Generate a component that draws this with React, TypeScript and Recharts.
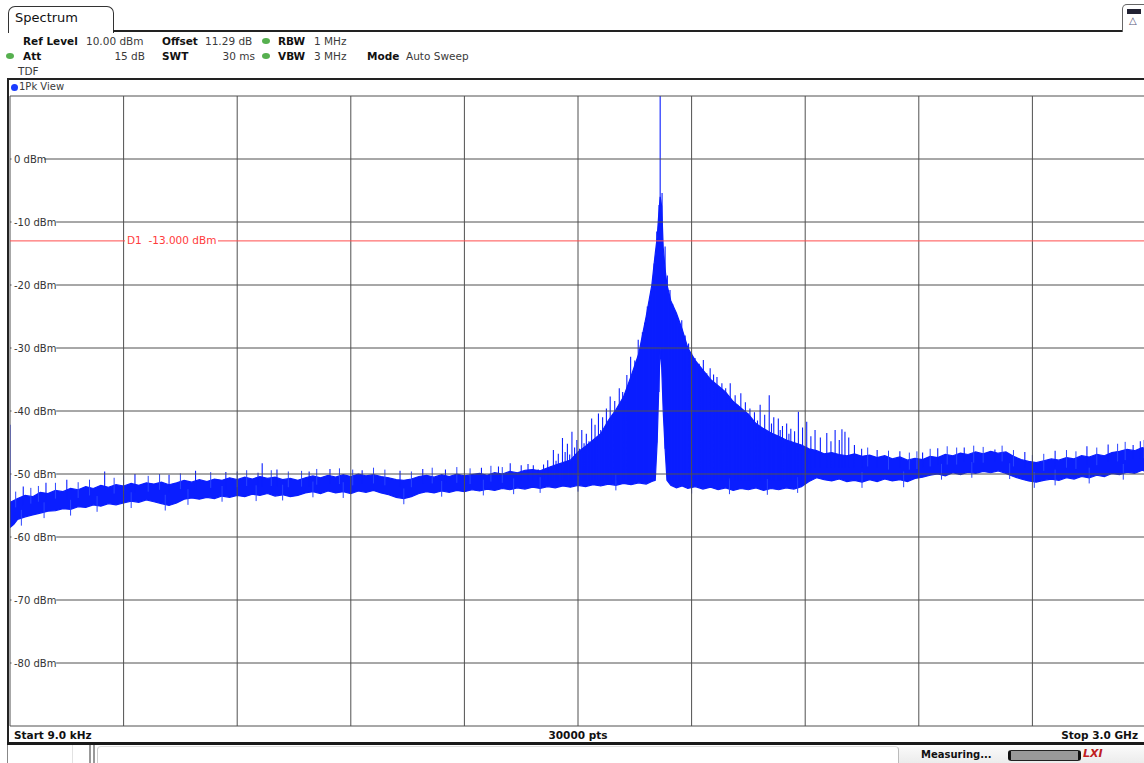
import React from "react";
import {
  ComposedChart,
  Area,
  Line,
  XAxis,
  YAxis,
  ReferenceLine,
} from "recharts";

// sweep 9 kHz .. 3 GHz, trace (MHz / dBm)
const FREQ_MHZ = [
  0, 10, 20, 40, 60, 80, 100, 120, 140, 160,
  180, 200, 220, 240, 260, 280, 300, 320, 340, 360,
  380, 400, 420, 440, 460, 480, 500, 520, 540, 560,
  580, 600, 620, 640, 660, 680, 700, 720, 740, 760,
  780, 800, 820, 840, 860, 880, 900, 920, 940, 960,
  980, 1000, 1020, 1040, 1060, 1080, 1100, 1120, 1140, 1160,
  1180, 1200, 1220, 1240, 1260, 1280, 1300, 1320, 1340, 1360,
  1380, 1400, 1420, 1440, 1460, 1480, 1500, 1520, 1540, 1560,
  1580, 1600, 1620, 1640, 1660, 1680, 1695, 1704, 1709, 1713,
  1717, 1721, 1725, 1730, 1735, 1745, 1760, 1775, 1790, 1810,
  1830, 1850, 1870, 1890, 1910, 1930, 1950, 1970, 1990, 2010,
  2030, 2050, 2070, 2090, 2110, 2130, 2150, 2170, 2190, 2210,
  2230, 2250, 2270, 2290, 2310, 2330, 2350, 2370, 2390, 2410,
  2430, 2450, 2470, 2490, 2510, 2530, 2550, 2570, 2590, 2610,
  2630, 2650, 2670, 2690, 2710, 2730, 2750, 2770, 2790, 2810,
  2830, 2850, 2870, 2890, 2910, 2930, 2950, 2970, 2990, 3000,
];

const LEVEL_LOW = [
  -58.5, -58.0, -57.2, -56.8, -56.5, -56.2, -55.9, -55.8, -55.5, -55.6,
  -55.2, -55.3, -54.9, -55.1, -54.7, -54.9, -54.6, -54.3, -54.5, -54.1,
  -54.4, -54.7, -55.0, -54.6, -54.0, -53.8, -54.0, -53.7, -53.9, -53.5,
  -53.7, -53.4, -53.6, -53.2, -53.4, -53.1, -53.5, -53.3, -53.6, -53.4,
  -53.0, -52.8, -53.1, -52.7, -53.0, -52.8, -53.1, -52.7, -52.9, -52.6,
  -53.0, -53.3, -53.7, -53.9, -53.6, -53.1, -52.8, -53.0, -52.7, -52.9,
  -52.6, -52.8, -52.5, -52.7, -52.4, -52.6, -52.3, -52.5, -52.2, -52.4,
  -52.1, -52.3, -52.0, -52.2, -51.9, -52.1, -51.8, -52.0, -51.7, -51.9,
  -51.6, -51.8, -51.5, -51.7, -51.4, -51.6, -51.2, -51.0, -45.0, -37.0,
  -30.0, -33.0, -40.0, -46.0, -51.0, -51.8, -52.2, -51.9, -52.3, -52.0,
  -52.4, -52.1, -52.5, -52.2, -52.6, -52.3, -52.5, -52.2, -52.6, -52.3,
  -52.5, -52.2, -52.4, -52.0, -51.2, -50.6, -50.9, -51.1, -50.8, -51.2,
  -51.0, -51.3, -50.9, -51.2, -50.8, -51.1, -50.9, -51.2, -50.7, -50.5,
  -50.2, -50.0, -50.3, -49.8, -50.1, -49.7, -49.9, -49.6, -49.8, -49.5,
  -49.9, -50.4, -50.8, -51.1, -51.3, -51.0, -50.8, -51.0, -50.6, -50.8,
  -50.4, -50.6, -50.2, -50.4, -49.9, -50.1, -49.7, -49.9, -49.4, -49.6,
];

const LEVEL_HIGH = [
  -54.5, -54.2, -53.9, -53.4, -53.6, -52.9, -53.1, -52.6, -52.8, -52.3,
  -52.5, -52.0, -52.3, -51.8, -52.1, -51.7, -51.9, -51.5, -51.8, -51.4,
  -51.6, -51.3, -51.7, -51.4, -51.0, -51.3, -50.9, -51.2, -50.8, -51.0,
  -50.6, -50.9, -50.5, -50.8, -50.4, -50.7, -50.5, -50.9, -50.7, -51.0,
  -50.6, -50.3, -50.6, -50.2, -50.5, -50.1, -50.4, -50.0, -50.3, -50.1,
  -50.4, -50.6, -50.9, -51.0, -50.8, -50.4, -50.2, -50.5, -50.1, -50.4,
  -50.0, -50.3, -50.1, -49.9, -50.2, -49.8, -50.0, -49.6, -49.8, -49.4,
  -49.3, -49.5, -49.0, -48.6, -48.2, -47.8, -46.5, -45.6, -44.6, -43.6,
  -41.5, -39.8, -37.8, -34.5, -31.0, -25.0, -20.0, -15.0, -12.5, -9.0,
  -6.0, -7.5, -14.0, -17.5, -20.0, -22.5, -24.5, -27.0, -30.0, -32.0,
  -33.5, -35.0, -36.0, -37.0, -38.5, -39.5, -40.5, -42.0, -42.8, -43.5,
  -44.0, -44.6, -45.0, -45.4, -46.0, -46.3, -46.8, -46.6, -46.9, -47.1,
  -46.8, -47.2, -47.0, -47.4, -47.1, -47.6, -47.3, -47.8, -47.5, -47.7,
  -47.2, -47.4, -46.9, -47.1, -46.7, -46.9, -46.5, -46.8, -46.4, -46.7,
  -46.5, -47.2, -47.7, -48.0, -48.2, -47.9, -47.6, -47.8, -47.4, -47.6,
  -47.1, -47.3, -46.9, -47.1, -46.6, -46.4, -46.1, -46.3, -45.8, -46.0,
];

// single peaks sticking out of the noise: freq, top, foot
const SPIKE_MHZ = [
  0, 35, 95, 150, 250, 330, 420, 490, 570, 655, 666, 705, 790, 845, 930, 1030, 1090, 1150, 1245, 1290, 1321, 1350,
  1368, 1382, 1395, 1409, 1420, 1428, 1435, 1442, 1448, 1459, 1466, 1472, 1478, 1484, 1491, 1497, 1504, 1510, 1516, 1522,
  1529, 1536, 1545, 1554, 1560, 1565, 1575, 1580, 1585, 1591, 1597, 1603, 1609, 1618, 1624, 1629, 1634, 1639, 1645, 1650,
  1659, 1664, 1670, 1676, 1683, 1692, 1701, 1708, 1714, 1717, 1722, 1730, 1736, 1743,
  1750, 1758, 1766, 1774, 1783, 1792, 1800, 1809, 1820, 1826, 1831, 1840, 1849,
  1858, 1867, 1874, 1880, 1890, 1896, 1902, 1915, 1922, 1930, 1942, 1948, 1954, 1966, 1974, 1981, 1993,
  2005, 2011, 2017, 2029, 2034, 2040, 2051, 2057, 2062, 2072, 2082, 2093, 2104, 2115, 2126,
  2140, 2157, 2168, 2179, 2190, 2197, 2205, 2215, 2230, 2249, 2290, 2350,
  2410, 2450, 2520, 2601, 2680, 2760, 2844, 2900, 2966, 2985,
];
const SPIKE_TOP = [
  -42.2, -52.0, -51.4, -50.9, -49.6, -50.0, -50.1, -49.5, -49.7, -49.8, -48.3, -49.3, -49.6, -49.2, -49.4, -49.5, -49.2, -49.3, -49.0, -48.8, -48.3, -48.6,
  -48.4, -48.6, -49.3, -48.5, -47.8, -48.8, -46.2, -47.9, -46.8, -44.3, -46.5, -45.2, -46.9, -43.3, -45.8, -44.6, -46.0, -43.0, -45.1, -43.6,
  -44.8, -41.2, -42.2, -40.4, -43.0, -41.0, -39.6, -42.2, -37.7, -40.5, -38.4, -40.2, -36.4, -37.0, -38.6, -34.3, -36.5, -31.4, -34.8, -32.0,
  -28.7, -30.2, -27.5, -26.0, -23.4, -21.0, -16.6, -11.5, -7.3, 10, -5.4, -13.9, -18.5, -20.8,
  -23.0, -25.0, -26.5, -25.6, -28.0, -29.3, -30.8, -31.6, -32.5, -33.8, -31.9, -34.0, -33.2,
  -34.2, -34.6, -36.8, -35.6, -36.4, -38.0, -35.6, -37.5, -39.0, -37.2, -38.6, -40.3, -39.6, -40.2, -41.5, -39.0, -40.6,
  -37.5, -42.0, -41.0, -41.2, -43.0, -42.4, -42.0, -43.6, -42.8, -43.2, -40.1, -42.6, -41.7, -44.0, -43.0,
  -44.2, -43.5, -44.8, -43.0, -44.6, -42.9, -43.3, -44.2, -45.4, -46.0, -46.2, -46.4,
  -46.6, -45.9, -45.8, -46.1, -46.5, -46.3, -45.6, -45.3, -45.4, -44.8,
];
const SPIKE_FOOT = [
  -56, -55, -54, -54, -52.5, -53, -53, -52.5, -52.5, -52, -52, -52, -52, -51.5, -51.5, -52, -51.5, -51.5, -51, -51, -51, -51,
  -51, -51, -51, -51, -51, -51, -51, -51, -51, -51, -51, -51, -51, -51, -51, -51, -51, -51, -51, -51,
  -51, -51, -51, -51, -51, -51, -51, -51, -51, -51, -51, -51, -51, -51, -51, -51, -51, -51, -51, -51,
  -51, -51, -51, -51, -51, -51, -51, -45, -37, -30, -33, -46, -51, -51,
  -51, -51, -51, -51, -51, -51, -51, -51, -51, -51, -51, -51, -51,
  -51, -51, -51, -51, -51, -51, -51, -51, -51, -51, -51, -51, -51, -51, -51, -51, -51,
  -51, -51, -51, -51, -51, -51, -51, -51, -51, -51, -51, -51, -51, -50, -49,
  -49, -49, -49, -49, -49, -49, -49, -49, -49, -49, -49, -49,
  -49, -48.5, -48, -48, -49, -49, -48.5, -48, -47.5, -47.5,
];

// short noise strokes along the edges of the noise band: freq, upper, lower
const FUZZ_MHZ = [
  15, 55, 75, 120, 180, 210, 275, 300, 365, 395, 450, 530, 600, 625, 690, 735, 770, 810, 870, 905,
  960, 990, 1060, 1115, 1180, 1215, 1270, 1300, 2265, 2320, 2375, 2395, 2430, 2475, 2500, 2545, 2570, 2620,
  2650, 2700, 2730, 2790, 2815, 2870, 2925, 2945, 2995,
  30, 90, 160, 230, 320, 410, 470, 560, 650, 720, 800, 880, 1040, 1140, 1250, 1330, 1400, 1500,
  1600, 1800, 1900, 2000, 2080, 2250, 2360, 2460, 2540, 2640, 2705, 2760, 2850, 2940,
];
const FUZZ_HI = [
  -52.8, -52.2, -51.9, -51.4, -51.3, -50.9, -50.6, -50.2, -50.3, -50.0, -49.9, -49.7, -49.6, -49.4, -49.4, -49.6, -49.5, -49.2, -49.1, -49.3,
  -49.0, -49.3, -49.6, -49.0, -48.9, -49.1, -48.7, -48.9, -45.8, -46.3, -46.6, -46.4, -46.0, -45.6, -45.8, -45.5, -45.7, -45.5,
  -46.2, -47.0, -46.8, -46.2, -46.4, -45.8, -45.2, -44.9, -44.6,
  -55.7, -54.5, -54.1, -53.5, -52.9, -53.3, -52.4, -51.9, -51.8, -51.7, -51.2, -51.3, -52.3, -51.1, -50.9, -50.7, -50.5, -50.3,
  -50.1, -50.6, -50.7, -50.8, -50.5, -49.7, -49.6, -48.4, -48.1, -48.3, -49.7, -49.3, -49.0, -48.4,
];
const FUZZ_LO = [
  -55.3, -54.7, -54.4, -53.9, -53.8, -53.4, -53.1, -52.7, -52.8, -52.5, -52.4, -52.2, -52.1, -51.9, -51.9, -52.1, -52.0, -51.7, -51.6, -51.8,
  -51.5, -51.8, -52.1, -51.5, -51.4, -51.6, -51.2, -51.4, -48.8, -49.3, -49.3, -49.2, -48.8, -48.5, -48.5, -48.2, -48.2, -48.0,
  -48.8, -49.8, -49.5, -49.0, -49.2, -48.6, -48.0, -47.8, -47.5,
  -58.2, -57.0, -56.6, -56.0, -55.4, -55.8, -54.9, -54.4, -54.3, -54.2, -53.7, -53.8, -54.8, -53.6, -53.4, -53.2, -53.0, -52.8,
  -52.6, -53.1, -53.2, -53.3, -53.0, -52.2, -52.1, -50.9, -50.6, -50.8, -52.2, -51.8, -51.5, -50.9,
];

const DBM_TICKS = [-90, -80, -70, -60, -50, -40, -30, -20, -10, 0, 10];
const FREQ_TICKS = [0, 300, 600, 900, 1200, 1500, 1800, 2100, 2400, 2700, 3000];
const D1_LEVEL = -13;

const TRACE = "#0a1eff";
const GRID = "#505050";
const FONT = "'DejaVu Sans', Verdana, sans-serif";

const bandRows = FREQ_MHZ.map((f, i) => ({ f, range: [LEVEL_LOW[i], LEVEL_HIGH[i]] }));
const spikeRows = SPIKE_MHZ.flatMap((f, i) => [
  { f, v: SPIKE_FOOT[i] },
  { f, v: SPIKE_TOP[i] },
  { f, v: null },
]);
const fuzzRows = FUZZ_MHZ.flatMap((f, i) => [
  { f, v: FUZZ_LO[i] },
  { f, v: FUZZ_HI[i] },
  { f, v: null },
]);

const NoTick = () => <g />;

// level label drawn on the grid line, with a white patch under it
const DbmLabel = ({ viewBox, level }: any) => {
  if (level === 10 || level === -90) return null;
  const label = `${level} dBm`;
  return (
    <g>
      <rect x={viewBox.x + 1.5} y={viewBox.y - 6} width={label.length * 6.1 + 2} height={12} fill="#fff" />
      <text x={viewBox.x + 4} y={viewBox.y} dy={3.5} fontSize={10} fill="#333" fontFamily={FONT}>
        {label}
      </text>
    </g>
  );
};

const D1Label = (props: any) => {
  const { viewBox } = props;
  const x = viewBox.x + 115;
  return (
    <g>
      <rect x={x} y={viewBox.y - 6} width={93} height={12} fill="#fff" />
      <text
        x={x + 2}
        y={viewBox.y}
        dy={3.5}
        fontSize={10.5}
        fill="#ff3b3b"
        fontFamily={FONT}
        style={{ whiteSpace: "pre" }}
      >
        {"D1  -13.000 dBm"}
      </text>
    </g>
  );
};

const Txt = ({ x, y, bold, right, size = 10.5, color, children }: any) => (
  <div
    style={{
      position: "absolute",
      top: y,
      ...(right !== undefined ? { right: 1144 - right } : { left: x }),
      fontSize: size,
      lineHeight: "12px",
      fontWeight: bold ? "bold" : "normal",
      color: color ?? (bold ? "#111" : "#3a3a3a"),
      whiteSpace: "pre",
    }}
  >
    {children}
  </div>
);

const Dot = ({ x, y, color }: any) => (
  <div
    style={{
      position: "absolute",
      left: x,
      top: y,
      width: 8,
      height: 6,
      borderRadius: "50%",
      background: color,
    }}
  />
);

const VRule = ({ x, color = "#bbb", w = 1 }: any) => (
  <div style={{ position: "absolute", left: x, top: 745, width: w, height: 18, background: color }} />
);

export default function App() {
  return (
    <div
      style={{
        position: "absolute",
        left: 0,
        top: 0,
        width: 1144,
        height: 763,
        overflow: "hidden",
        background: "#fff",
        fontFamily: FONT,
      }}
    >
      {/* tab + header */}
      <div
        style={{
          position: "absolute",
          left: 8,
          top: 6,
          width: 104,
          height: 26,
          border: "1px solid #333",
          borderBottom: "none",
          borderRadius: "7px 7px 0 0",
          background: "#fff",
        }}
      />
      <Txt x={15} y={12} size={13} color="#111">Spectrum</Txt>
      <div style={{ position: "absolute", left: 113, top: 30, width: 1010, height: 2, background: "#222" }} />
      <div
        style={{
          position: "absolute",
          left: 1122,
          top: 4,
          width: 24,
          height: 27,
          border: "1px solid #666",
          borderBottom: "none",
          borderRadius: "5px 0 0 0",
          background: "#fff",
        }}
      />
      <div style={{ position: "absolute", left: 1127, top: 9, width: 14, height: 5, background: "#223" }} />
      <Txt x={1129} y={15} size={10} color="#557">{"\u25B3"}</Txt>

      <Txt x={23} y={35} bold>Ref Level</Txt>
      <Txt x={86} y={35}>10.00 dBm</Txt>
      <Txt x={162} y={35} bold>Offset</Txt>
      <Txt x={205} y={35}>11.29 dB</Txt>
      <Dot x={262} y={38} color="#56b04f" />
      <Txt x={278} y={35} bold>RBW</Txt>
      <Txt x={314} y={35}>1 MHz</Txt>

      <Dot x={6} y={53} color="#56b04f" />
      <Txt x={23} y={50} bold>Att</Txt>
      <Txt right={145} y={50}>15 dB</Txt>
      <Txt x={162} y={50} bold>SWT</Txt>
      <Txt right={255} y={50}>30 ms</Txt>
      <Dot x={262} y={53} color="#56b04f" />
      <Txt x={278} y={50} bold>VBW</Txt>
      <Txt x={314} y={50}>3 MHz</Txt>
      <Txt x={367} y={50} bold>Mode</Txt>
      <Txt x={406} y={50}>Auto Sweep</Txt>

      <Txt x={18} y={65}>TDF</Txt>

      {/* window frame */}
      <div style={{ position: "absolute", left: 7, top: 78, width: 1137, height: 2, background: "#222" }} />
      <div style={{ position: "absolute", left: 7, top: 78, width: 2, height: 667, background: "#222" }} />
      <div style={{ position: "absolute", left: 11, top: 84, width: 7, height: 7, borderRadius: "50%", background: "#1a3cff" }} />
      <Txt x={19} y={81} size={10}>1Pk View</Txt>

      <div style={{ position: "absolute", left: 0, top: 0 }}>
        <ComposedChart
          width={1160}
          height={763}
          data={bandRows}
          margin={{ top: 96, right: 14, bottom: 37, left: 10 }}
        >
          <XAxis
            dataKey="f"
            type="number"
            domain={[0, 3000]}
            ticks={FREQ_TICKS}
            interval={0}
            allowDataOverflow
            mirror
            axisLine={false}
            tickLine={false}
            tick={<NoTick />}
          />
          <YAxis
            type="number"
            domain={[-90, 10]}
            ticks={DBM_TICKS}
            interval={0}
            allowDataOverflow
            mirror
            axisLine={false}
            tickLine={false}
            tick={<NoTick />}
          />
          <Area
            dataKey="range"
            type="linear"
            stroke={TRACE}
            strokeWidth={1.2}
            fill={TRACE}
            fillOpacity={1}
            dot={false}
            activeDot={false}
            isAnimationActive={false}
          />
          <Line
            data={fuzzRows}
            dataKey="v"
            type="linear"
            stroke="#2a44ff"
            strokeWidth={1}
            dot={false}
            activeDot={false}
            connectNulls={false}
            isAnimationActive={false}
          />
          <Line
            data={spikeRows}
            dataKey="v"
            type="linear"
            stroke={TRACE}
            strokeWidth={1.1}
            dot={false}
            activeDot={false}
            connectNulls={false}
            isAnimationActive={false}
          />
          {/* the analyser paints its graticule over the trace */}
          {FREQ_TICKS.map((f) => (
            <ReferenceLine key={`v${f}`} x={f} stroke={GRID} strokeWidth={1} />
          ))}
          {DBM_TICKS.map((d) => (
            <ReferenceLine
              key={`h${d}`}
              y={d}
              stroke={GRID}
              strokeWidth={1}
              label={<DbmLabel level={d} />}
            />
          ))}
          <ReferenceLine y={D1_LEVEL} stroke="#ff4d4d" strokeWidth={1} label={<D1Label />} />
        </ComposedChart>
      </div>

      {/* footer */}
      <Txt x={14} y={729} bold>Start 9.0 kHz</Txt>
      <div style={{ position: "absolute", left: 0, width: 1144, top: 729, textAlign: "center", fontSize: 10.5, fontWeight: "bold", lineHeight: "12px", color: "#111", paddingLeft: 6 }}>
        30000 pts
      </div>
      <Txt right={1138} y={729} bold>Stop 3.0 GHz</Txt>
      <div style={{ position: "absolute", left: 7, top: 742, width: 1137, height: 3, background: "#1a1a1a" }} />

      {/* status bar */}
      <VRule x={7} color="#888" />
      <VRule x={72} color="#e2e2e2" />
      <VRule x={89} color="#999" w={2} />
      <VRule x={93} color="#999" w={2} />
      <div style={{ position: "absolute", left: 97, top: 746, width: 800, height: 17, background: "#fff", borderLeft: "1px solid #ccc", borderTop: "1px solid #ddd", borderRight: "1px solid #bbb", borderRadius: "4px 4px 0 0" }} />
      <div style={{ position: "absolute", left: 899, top: 746, width: 245, height: 17, background: "linear-gradient(#fafafa, #ececec)" }} />
      <Txt x={921} y={749} bold size={10}>Measuring...</Txt>
      <div style={{ position: "absolute", left: 1008, top: 750, width: 67, height: 9, background: "#999", border: "1px solid #222", borderLeft: "3px solid #111", borderRight: "3px solid #111", borderRadius: 3 }} />
      <Txt x={1083} y={748} bold size={11} color="#c02020">
        <i>LXI</i>
      </Txt>
    </div>
  );
}
